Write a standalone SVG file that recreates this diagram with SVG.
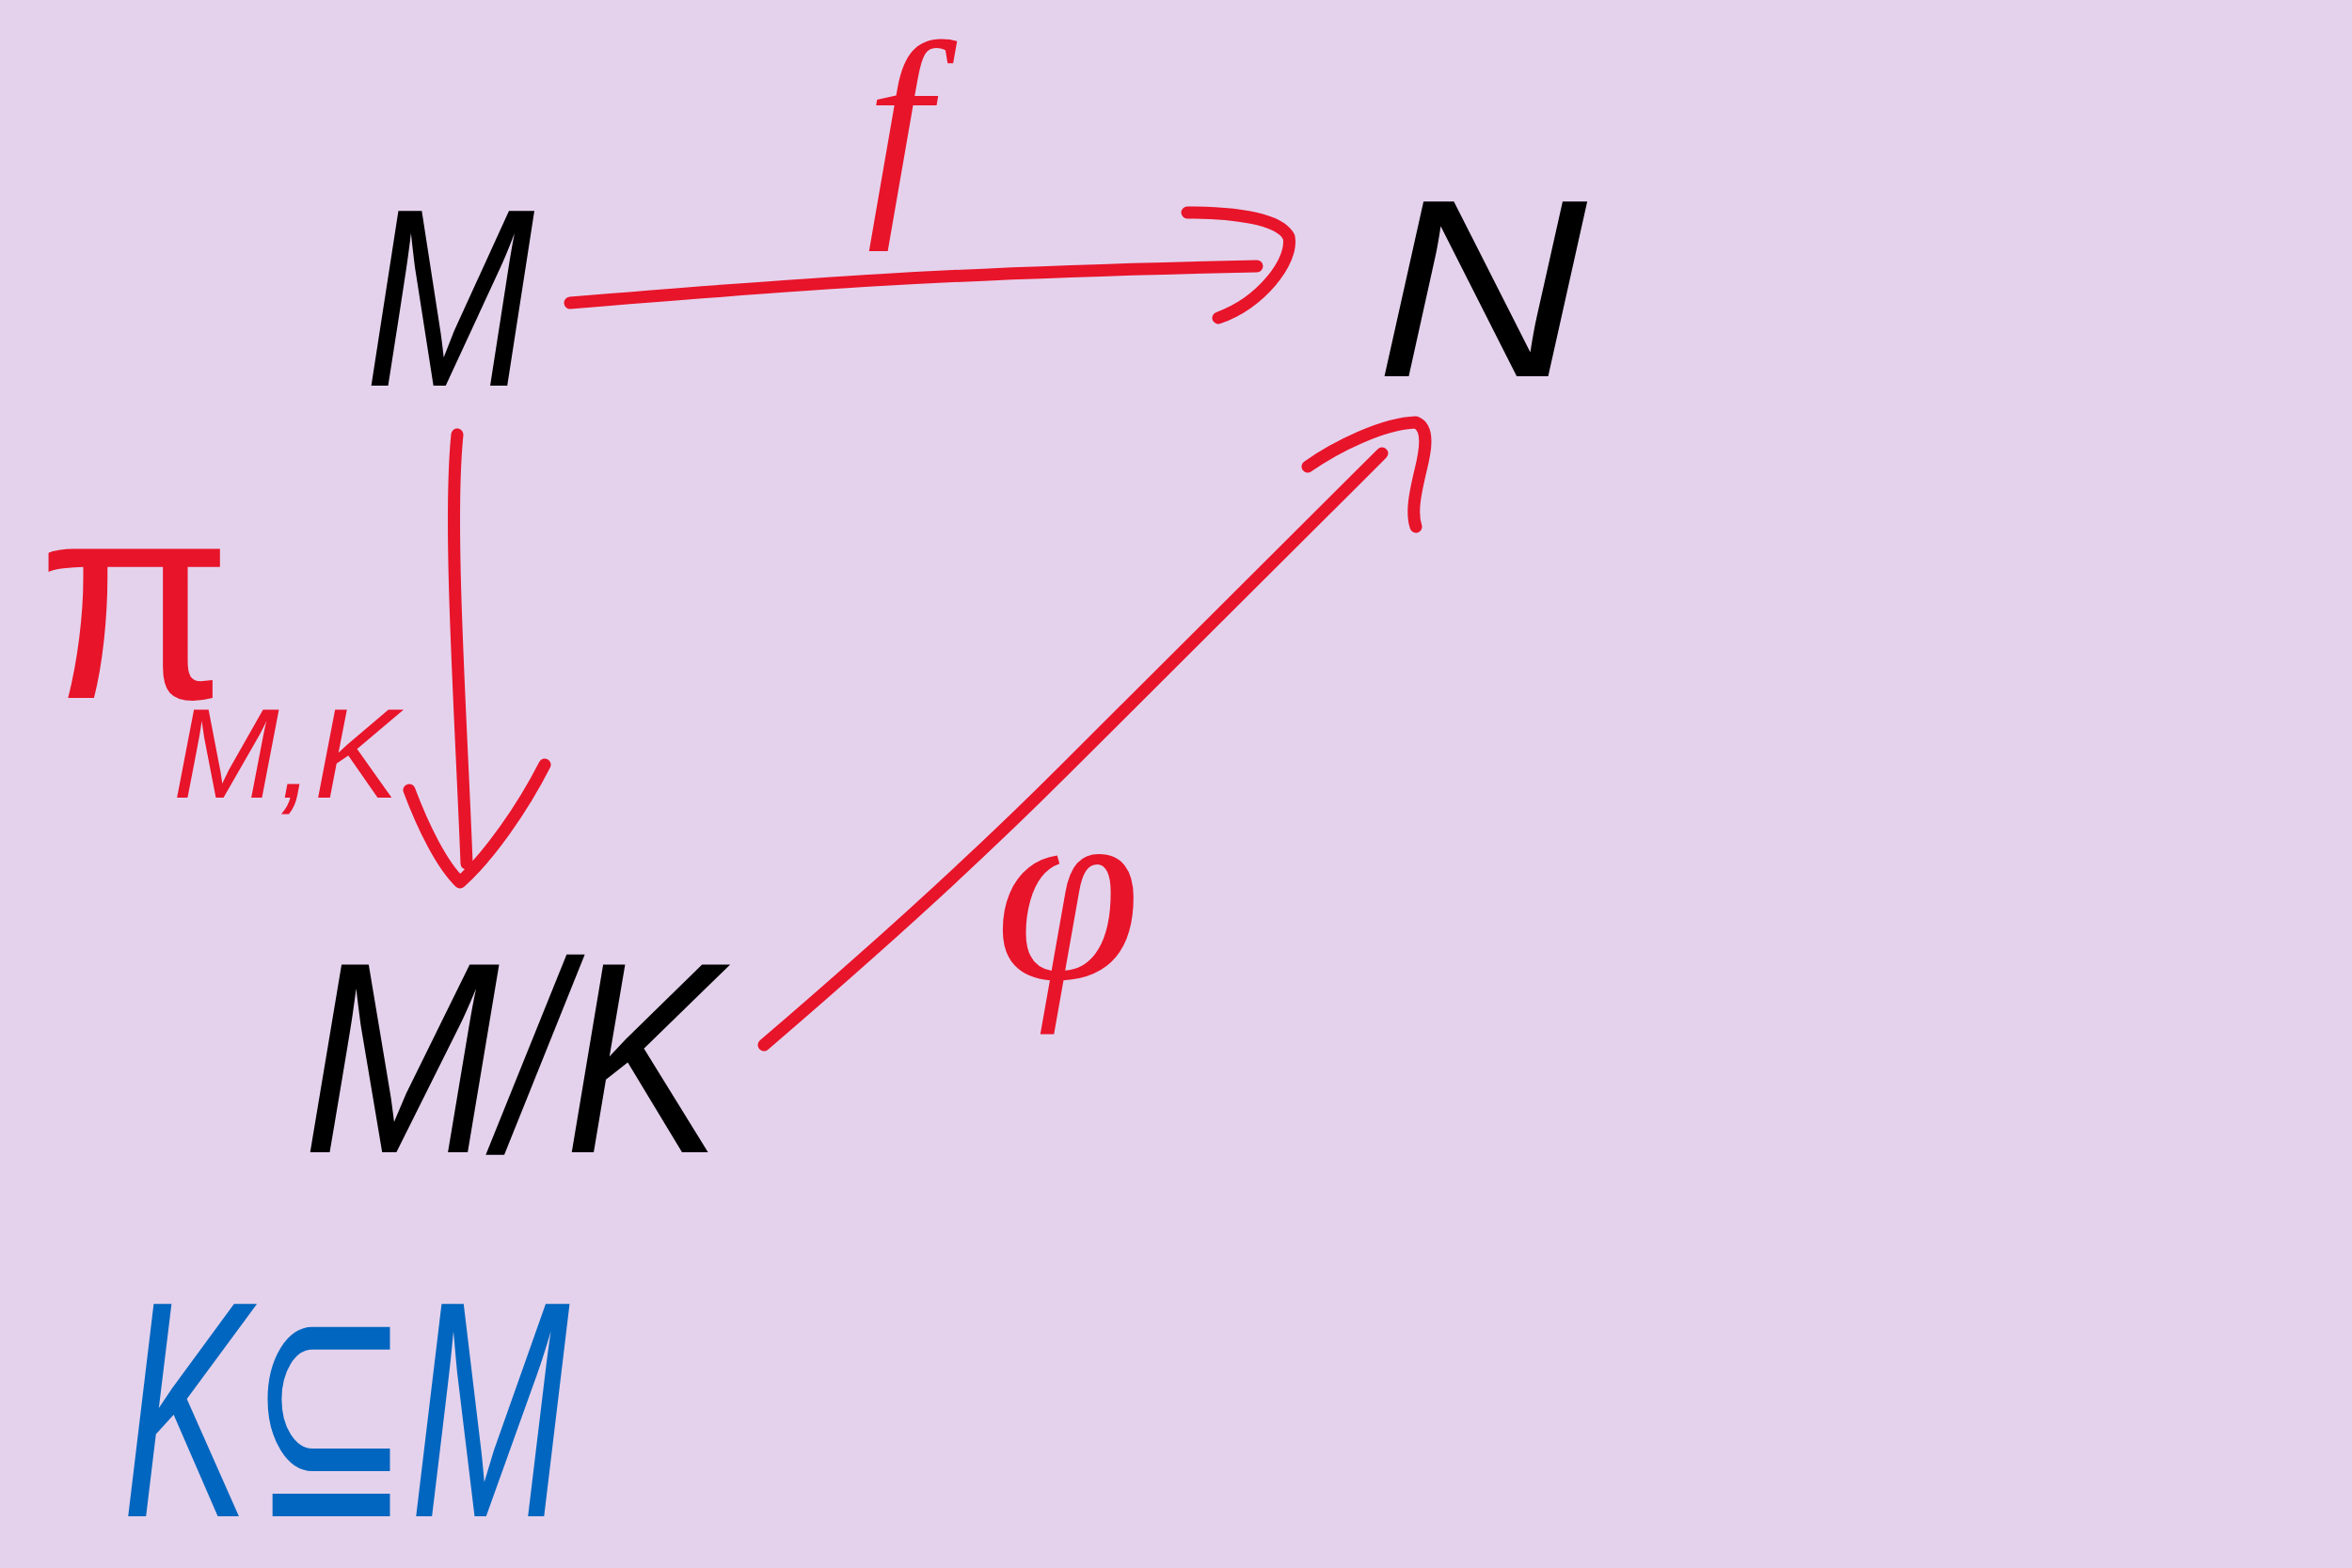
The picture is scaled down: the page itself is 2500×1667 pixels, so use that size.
<svg xmlns="http://www.w3.org/2000/svg" width="2500" height="1667" viewBox="0 0 2500 1667">
<style>
.bg{fill:#E4D2EC}
.ink{font-family:"Liberation Sans","DejaVu Sans",sans-serif;font-style:italic}
.ser{font-family:"Liberation Serif","DejaVu Serif",serif;font-style:italic}
.blk{fill:#000}
.red{fill:#E8142A}
.blu{fill:#0066BF}
.arr{fill:none;stroke:#E8142A;stroke-width:13;stroke-linecap:round;stroke-linejoin:round}
</style>
<rect class="bg" x="0" y="0" width="2500" height="1667"/>
<g id="node-M">
<text class="ink blk" x="388" y="410" font-size="270" textLength="180" lengthAdjust="spacingAndGlyphs">M</text>
</g>
<g id="node-N">
<text class="ink blk" x="1462" y="400" font-size="270" textLength="225" lengthAdjust="spacingAndGlyphs">N</text>
</g>
<g id="node-MK">
<text class="ink blk" x="322" y="1225" font-size="290" textLength="445" lengthAdjust="spacingAndGlyphs">M/K</text>
</g>
<g id="note-KsubM">
<text class="ink blu" transform="translate(130,1612) scale(0.62,1)" x="0" y="0" font-size="328">K⊆M</text>
</g>
<g id="connectors">
<g id="edge-f">
<path class="arr" d="M606 322 C850 302 1000 290 1336 283"/>
<path class="arr" d="M1262 226 C1310 226 1360 232 1370 252 C1375 278 1340 322 1295 338"/>
<text class="ser red" x="955" y="215" font-size="245" text-anchor="middle">f</text>
</g>
<g id="edge-pi">
<path class="arr" d="M486 462 C476 560 490 760 496 918"/>
<path class="arr" d="M435 840 C450 880 470 920 489 938 C520 910 555 860 579 813"/>
<text class="ink red" x="40" y="742" font-size="300"><tspan font-style="normal">π</tspan><tspan x="184" y="848" font-size="135">M,K</tspan></text>
</g>
<g id="edge-phi">
<path class="arr" d="M812 1111 Q1000 950 1130 820 T1469 482"/>
<path class="arr" d="M1390 496 C1420 475 1470 450 1505 449 C1520 455 1515 480 1510 500 C1504 525 1500 545 1505 560"/>
<text class="ser red" x="1135" y="1040" font-size="280" text-anchor="middle">φ</text>
</g>
</g>
</svg>
